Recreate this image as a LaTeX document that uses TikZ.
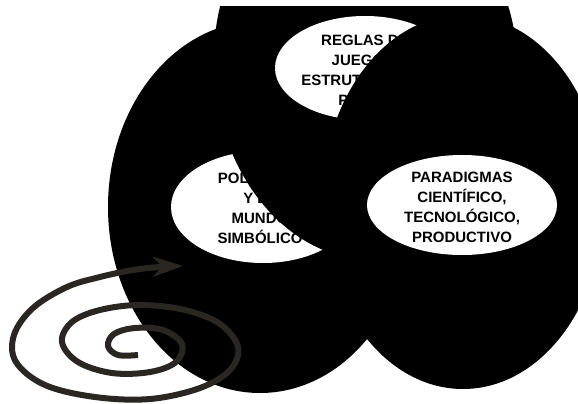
\documentclass[tikz,border=0pt]{standalone}
\usepackage{fontspec}
\setmainfont{Liberation Sans}
\usetikzlibrary{shapes.geometric}
\usetikzlibrary{arrows.meta}

\definecolor{spiralgray}{RGB}{42,38,34}

\begin{document}
\begin{tikzpicture}[
    x=1pt, y=-1pt,
    font=\fontsize{15}{20}\selectfont\bfseries
]
\tikzset{
    blob/.style = {ellipse, fill=black, inner sep=0pt},
    bubble/.style = {ellipse, fill=white, inner sep=0pt},
    bubbletext/.style = {align=center, inner sep=0pt},
    spiralline/.style = {line width=6pt, draw=spiralgray, line cap=butt,
        -{Stealth[length=30pt,width=20pt,inset=9pt]}}
}
\useasboundingbox (0,0) rectangle (578,404);
\fill[white] (0,0) rectangle (578,404);
\begin{scope}
\clip (0,7) rectangle (578,404);
% left set
\node[blob, minimum width=304pt, minimum height=372pt] at (260,207) (leftset) {};
\node[bubble, minimum width=184pt, minimum height=112pt] at (263,207) (leftbubble) {};
\node[bubbletext] at (260,207) (lefttext) {POLÍTICAS,\\Y EL\\MUNDO\\SIMBÓLICO};
% top set
\node[blob, rotate=4.5, minimum width=304pt, minimum height=384pt] at (366,68) (topset) {};
\node[bubble, minimum width=180pt, minimum height=104pt] at (365,68) (topbubble) {};
\node[bubbletext] at (365,70) (toptext) {REGLAS DE\\JUEGO Y\\ESTRUTURAS DE\\PODER};
% right set
\node[blob, minimum width=282pt, minimum height=374pt] at (463,202) (rightset) {};
\node[bubble, minimum width=190pt, minimum height=100pt] at (462,205) (rightbubble) {};
\node[bubbletext] at (462,207) (righttext) {PARADIGMAS\\CIENTÍFICO,\\TECNOLÓGICO,\\PRODUCTIVO};
\end{scope}
% spiral
\coordinate (spiralin) at (138,355);
\coordinate (spiraltip) at (183,266);
\draw[spiralline] plot[smooth, tension=0.6] coordinates {(spiralin) (118,355) (108,346)
    (114,334) (135,328) (163,330) (182,344) (176,362) (150,372) (112,373) (78,362)
    (62,342) (72,322) (100,310) (140,305) (185,310) (220,324) (238,347) (230,370)
    (200,388) (150,399) (95,397) (45,385) (16,362) (14,335) (33,308) (67,287)
    (100,277) (133,270) (160,267) (spiraltip)};
\end{tikzpicture}
\end{document}
